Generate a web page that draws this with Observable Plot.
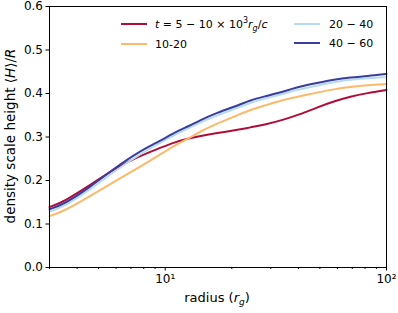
<!DOCTYPE html>
<html>
<head>
<meta charset="utf-8">
<script src="https://cdn.jsdelivr.net/npm/d3@7"></script>
<script src="https://cdn.jsdelivr.net/npm/@observablehq/plot@0.6"></script>
<style>
  html, body { margin: 0; padding: 0; background: white; }
  svg { display: block; }
</style>
</head>
<body>
<div id="chart"></div>
<script>
const radius = [3, 3.5, 4.5, 6, 7.6, 9.4, 11, 12.9, 14.3, 17, 21.7, 24.1, 28, 34, 40.6, 48.5, 58, 68.6, 82, 100];
const h5_10  = [0.139, 0.152, 0.187, 0.229, 0.256, 0.274, 0.288, 0.297, 0.302, 0.309, 0.317, 0.322, 0.328, 0.339, 0.352, 0.368, 0.382, 0.393, 0.401, 0.408];
const h10_20 = [0.118, 0.130, 0.162, 0.200, 0.230, 0.258, 0.280, 0.298, 0.312, 0.330, 0.352, 0.362, 0.372, 0.385, 0.394, 0.402, 0.410, 0.415, 0.419, 0.422];
const h20_40 = [0.128, 0.141, 0.176, 0.224, 0.259, 0.285, 0.305, 0.321, 0.333, 0.349, 0.369, 0.378, 0.388, 0.399, 0.410, 0.418, 0.426, 0.432, 0.435, 0.438];
const h40_60 = [0.134, 0.146, 0.182, 0.231, 0.266, 0.290, 0.310, 0.326, 0.338, 0.355, 0.374, 0.384, 0.393, 0.404, 0.416, 0.424, 0.432, 0.437, 0.440, 0.445];
const seriesNames = ["5-10", "10-20", "20-40", "40-60"];
const seriesColors = ["#b00c3a", "#fdb96a", "#b4dcec", "#3a3d9e"];
const yTicks = [0, 0.1, 0.2, 0.3, 0.4, 0.5, 0.6];
const xMajor = [10, 100];
const xMajorLabels = ["10¹", "10²"];
const xMinor = [3, 4, 5, 6, 7, 8, 9, 20, 30, 40, 50, 60, 70, 80, 90];

const seriesValues = [h5_10, h10_20, h20_40, h40_60];
const data = [];
seriesNames.forEach((s, i) => radius.forEach((r, j) => data.push({series: s, r, h: seriesValues[i][j]})));

const chart = Plot.plot({
  width: 398, height: 313,
  marginLeft: 49, marginRight: 12, marginTop: 6, marginBottom: 46,
  style: {fontFamily: "DejaVu Sans", fontSize: "12px", background: "white", color: "black", overflow: "visible"},
  x: {type: "log", domain: [3, 100]},
  y: {domain: [0, 0.6]},
  color: {domain: seriesNames, range: seriesColors},
  marks: [
    Plot.axisX({ticks: xMinor, tickSize: 2, tickFormat: () => "", label: null}),
    Plot.axisX({ticks: xMajor, tickSize: 3.5, tickPadding: 3, tickFormat: d => xMajorLabels[xMajor.indexOf(d)], label: null}),
    Plot.axisY({ticks: yTicks, tickSize: 3.5, tickPadding: 3, tickFormat: d3.format(".1f"), label: null}),
    Plot.line(data, {x: "r", y: "h", z: "series", stroke: "series", strokeWidth: 2, curve: "basis"}),
    Plot.frame({stroke: "black", strokeWidth: 1})
  ]
});
document.getElementById("chart").appendChild(chart);

const svg = d3.select(chart);
// y label
const yl = svg.append("text")
  .attr("transform", "translate(15,136) rotate(-90)")
  .attr("text-anchor", "middle")
  .attr("font-size", 13.5).attr("fill", "black");
yl.append("tspan").text("density scale height ⟨");
yl.append("tspan").attr("font-style", "italic").text("H");
yl.append("tspan").text("⟩/");
yl.append("tspan").attr("font-style", "italic").text("R");

// x label
const xl = svg.append("text")
  .attr("x", 217).attr("y", 302)
  .attr("text-anchor", "middle")
  .attr("font-size", 13).attr("fill", "black");
xl.append("tspan").text("radius (");
xl.append("tspan").attr("font-style", "italic").text("r");
xl.append("tspan").attr("font-style", "italic").attr("font-size", 9).attr("dy", 3).text("g");
xl.append("tspan").attr("dy", -3).text(")");

// legend
const leg = svg.append("g").attr("font-size", 11).attr("fill", "black").attr("text-anchor", "start");
const legendPos = [[121, 24], [121, 44], [294, 24], [294, 43]];
seriesNames.forEach((s, i) => {
  const [lx, ly] = legendPos[i];
  leg.append("line").attr("x1", lx).attr("x2", lx + 26).attr("y1", ly).attr("y2", ly)
    .attr("stroke", seriesColors[i]).attr("stroke-width", 2);
});
const t0 = leg.append("text").attr("x", 155).attr("y", 28);
t0.append("tspan").attr("font-style", "italic").text("t");
t0.append("tspan").text(" = 5 − 10 × 10");
t0.append("tspan").attr("font-size", 8).attr("dy", -5).text("3");
t0.append("tspan").attr("font-style", "italic").attr("dy", 5).text("r");
t0.append("tspan").attr("font-style", "italic").attr("font-size", 8).attr("dy", 3).text("g");
t0.append("tspan").attr("dy", -3).text("/");
t0.append("tspan").attr("font-style", "italic").text("c");
leg.append("text").attr("x", 155).attr("y", 48).text("10-20");
leg.append("text").attr("x", 329).attr("y", 28).text("20 − 40");
leg.append("text").attr("x", 329).attr("y", 47).text("40 − 60");
</script>
</body>
</html>
